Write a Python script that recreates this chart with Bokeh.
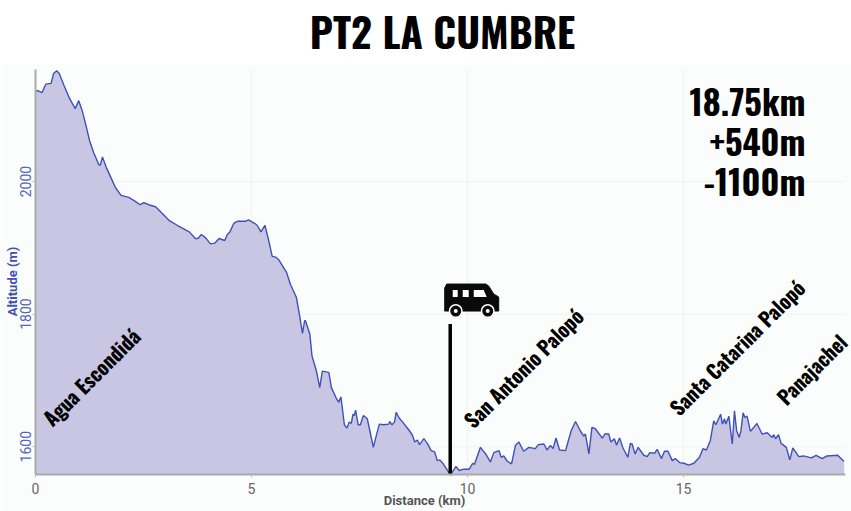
from bokeh.embed import file_html
from bokeh.resources import INLINE
from bokeh.plotting import figure
from bokeh.models import Label, FixedTicker, Range1d, ColumnDataSource, BoxAnnotation
from bokeh.core.properties import value

COND = "Oswald"

distance = [0,.05,.15,.24,.36,.42,.49,.55,.66,.79,.92,1.0,1.08,1.16,1.25,1.35,1.47,1.50,1.55,1.64,1.76,1.85,1.98,2.16,2.31,2.42,2.51,2.62,2.78,2.93,3.10,3.28,3.56,3.70,3.76,3.84,3.94,4.05,4.15,4.25,4.38,4.44,4.50,4.59,4.67,4.86,4.93,5.07,5.13,5.22,5.31,5.38,5.48,5.56,5.63,
5.81,5.90,6.04,6.10,6.18,6.23,6.25,6.35,6.40,6.50,6.58,6.64,6.79,6.85,6.97,7.02,7.07,7.15,7.21,7.26,7.31,7.35,7.38,7.41,7.47,7.52,7.59,7.68,7.74,7.82,7.89,7.96,8.06,8.18,8.20,8.25,8.31,8.35,8.41,8.50,8.62,8.72,8.78,8.84,8.89,8.99,9.07,9.16,9.24,9.30,9.36,9.45,9.57,9.61,9.67,9.73,9.81,9.92,10.04,10.12,10.16,10.30,10.42,10.53,10.61,10.73,10.78,10.84,10.92,11.02,11.11,11.19,11.30,11.42,11.57,11.64,11.77,11.84,11.92,
11.98,12.05,12.13,12.27,12.40,12.50,12.61,12.69,12.73,12.81,12.88,12.96,13.12,13.18,13.27,13.32,13.40,13.45,13.52,13.60,13.71,13.77,13.81,13.88,13.95,14.08,14.16,14.22,14.33,14.39,14.49,14.56,14.64,14.74,14.81,14.91,15.01,15.12,15.24,15.37,15.45,15.53,15.62,15.70,15.75,15.86,15.90,15.95,15.98,16.05,16.09,16.13,16.18,16.23,16.29,16.33,16.38,16.42,16.47,16.55,16.70,16.82,16.94,17.05,17.09,17.13,17.20,17.26,17.38,17.41,17.46,17.53,17.67,17.78,17.96,18.07,18.21,18.32,18.57,18.69,18.72]
altitude = [2136,2137,2134,2147,2148,2163,2167,2163,2145,2125,2110,2122,2107,2087,2062,2043,2025,2025,2037,2021,2004,1991,1979,1976,1970,1965,1968,1965,1962,1952,1941,1934,1924,1914,1914,1920,1915,1906,1907,1914,1911,1920,1924,1937,1940,1940,1942,1937,1934,1924,1934,1916,1887,1886,1882,
1863,1845,1825,1803,1771,1790,1790,1770,1737,1715,1689,1714,1712,1689,1672,1667,1675,1633,1628,1637,1635,1649,1647,1655,1633,1633,1647,1642,1624,1599,1617,1634,1633,1634,1638,1633,1637,1652,1644,1637,1627,1618,1607,1610,1603,1612,1605,1594,1592,1579,1580,1573,1561,1557,1564,1570,1564,1566,1566,1575,1573,1599,1589,1577,1591,1594,1584,1586,1578,1574,1602,1607,1593,1599,1597,1603,1604,1595,1602,
1597,1613,1595,1594,1624,1638,1624,1616,1619,1589,1629,1627,1613,1619,1619,1607,1612,1602,1613,1598,1584,1605,1604,1589,1599,1587,1585,1591,1590,1596,1582,1593,1593,1579,1582,1576,1575,1572,1575,1584,1597,1595,1609,1639,1633,1649,1634,1642,1634,1646,1624,1604,1654,1624,1614,1624,1651,1644,1646,1623,1635,1619,1621,1614,1618,1612,1618,1605,1599,1592,1580,1598,1585,1586,1583,1587,1582,1586,1587,1579,1578]

x_ticks = [0, 5, 10, 15]
y_ticks = [1600, 1800, 2000]
x_label = "Distance (km)"
y_label = "Altitude (m)"
title = "PT2 LA CUMBRE"
stats = ["18.75km", "+540m", "-1100m"]
places = ["Agua Escondidá", "San Antonio Palopó", "Santa Catarina Palopó", "Panajachel"]
place_x = [0.25, 10.0, 14.76, 17.24]
place_y = [1638, 1635, 1654, 1670]
stop_x = 9.6
stop_top = 1785

X0, X1, Y0, Y1 = 0, 18.75, 1558, 2169
KX, KY = 43.2, 405 / (Y1 - Y0)     # pixels per km, pixels per metre
W, H = 851, 511
LEFT, BOTTOM = 35, 474             # where the plot area's corner sits on the page
BG = "#fbfdfc"

p = figure(width=W, height=H, output_backend="svg", toolbar_location=None,
           x_range=Range1d(X0 - LEFT / KX, X0 + (W - LEFT) / KX),
           y_range=Range1d(Y0 - (H - BOTTOM) / KY, Y0 + BOTTOM / KY),
           min_border_left=0, min_border_right=0, min_border_top=0, min_border_bottom=0,
           background_fill_color=BG, border_fill_color=BG, outline_line_color=None)
p.xgrid.visible = False
p.ygrid.visible = False

p.add_layout(BoxAnnotation(left=0, right=W, bottom=H - 63, top=H,
                           left_units="screen", right_units="screen", bottom_units="screen", top_units="screen",
                           fill_color="#ffffff", fill_alpha=1, line_color=None, level="underlay"))

p.segment(x_ticks, [Y0] * len(x_ticks), x_ticks, [Y1] * len(x_ticks), line_color="#f0f2f2", line_width=1)
p.segment([X0] * len(y_ticks), y_ticks, [X1] * len(y_ticks), y_ticks, line_color="#f0f2f2", line_width=1)

src = ColumnDataSource(dict(x=distance, y=altitude))
p.varea(x="x", y1=Y0, y2="y", source=src, fill_color="#c9c6e4", fill_alpha=1)
p.line("x", "y", source=src, line_color="#3f51b5", line_width=1.4)

for ax, col, ticks in ((p.xaxis[0], "#666666", x_ticks), (p.yaxis[0], "#5563b8", y_ticks)):
    ax.ticker = FixedTicker(ticks=ticks)
    ax.axis_line_color = "#aaaaaa"
    ax.axis_line_width = 2
    ax.major_tick_line_color = "#bbbbbb"
    ax.major_tick_in = 0
    ax.major_tick_out = 3
    ax.minor_tick_line_color = None
    ax.major_label_text_font = "Roboto"
    ax.major_label_text_font_size = "14px"
    ax.major_label_text_color = col
p.xaxis.fixed_location = Y0
p.xaxis.bounds = (X0, X1)
p.yaxis.fixed_location = X0
p.yaxis.bounds = (Y0, Y1)
p.xaxis.major_label_standoff = 5
p.yaxis.major_label_standoff = 1
p.yaxis.major_label_orientation = "vertical"

p.segment([stop_x], [Y0], [stop_x], [stop_top], line_color="#000000", line_width=3.5)

p.text(place_x, place_y, text=places, angle=0.785, angle_units="rad", text_font=value(COND),
       text_font_style="bold", text_font_size="20px", text_color="#000000",
       text_align="left", text_baseline="alphabetic")

for txt, y in zip(stats, (411, 371, 331)):
    p.add_layout(Label(x=805, y=y, x_units="screen", y_units="screen", text=txt,
                       text_font=COND, text_font_style="bold", text_font_size="34.5px",
                       text_color="#000000", text_align="right", text_baseline="alphabetic"))
p.add_layout(Label(x=442, y=481, x_units="screen", y_units="screen", text=title,
                   text_font=COND, text_font_style="bold", text_font_size="40.7px",
                   text_color="#000000", text_align="center", text_baseline="alphabetic"))
p.add_layout(Label(x=424, y=11, x_units="screen", y_units="screen", text=x_label,
                   text_font="Roboto", text_font_style="bold", text_font_size="13px",
                   text_color="#555555", text_align="center", text_baseline="alphabetic"))
p.add_layout(Label(x=12, y=230, x_units="screen", y_units="screen", text=y_label, angle=1.5708,
                   text_font="Roboto", text_font_style="bold", text_font_size="13px",
                   text_color="#3f51b5", text_align="center", text_baseline="alphabetic"))

# van icon, placed relative to the stop
kx, ky = 1 / KX, 1 / KY
def P(pts):
    return [stop_x + (a - 450.5) * kx for a, b in pts], [stop_top + (324 - b) * ky for a, b in pts]
bx, by = P([(445,288),(447,284),(486,284),(489,286),(494,294),(499,297),(499,311),(445,311)])
p.patch(bx, by, fill_color="#0a0a0a", line_color="#0a0a0a")
for win in ([(453,290),(458,290),(458,297),(453,297)], [(463,290),(469,290),(469,297),(463,297)], [(474,290),(484,290),(487,297),(474,297)]):
    wx, wy = P(win)
    p.patch(wx, wy, fill_color="#ffffff", line_color=None)
wx, wy = P([(456,311),(488,311)])
p.scatter(wx, wy, size=14, fill_color="#ffffff", line_color=None)
p.scatter(wx, wy, size=11, fill_color="#0a0a0a", line_color=None)
p.scatter(wx, wy, size=4, fill_color="#ffffff", line_color=None)

open("out.html", "w").write(file_html(p, INLINE))
